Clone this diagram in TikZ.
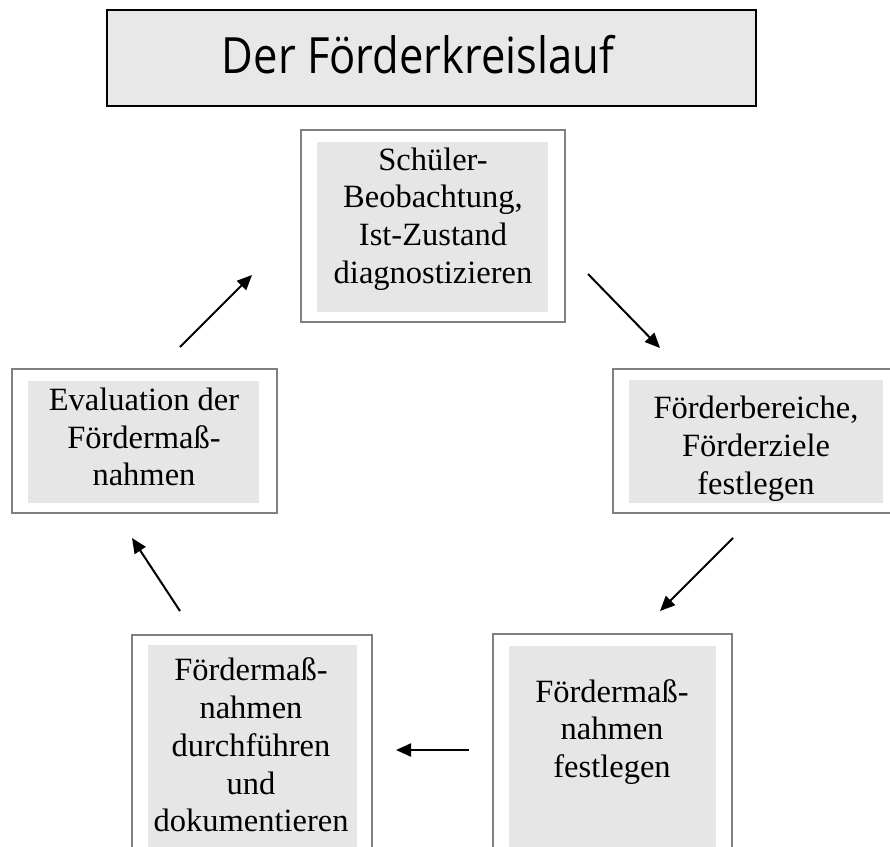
\documentclass[tikz,border=0pt]{standalone}
\usepackage{fontspec}
\setmainfont{Liberation Serif}
\newfontfamily\titlefont{Open Sans}
\usetikzlibrary{arrows.meta}
\definecolor{boxgray}{HTML}{E6E6E6}
\definecolor{framegray}{HTML}{808080}
\definecolor{titlegray}{HTML}{E8E8E8}
\tikzset{
  frame/.style={draw=framegray, line width=2.2pt, fill=white},
  inner/.style={fill=boxgray},
  txt/.style={align=center, font=\fontsize{32.5}{37.8}\selectfont, inner sep=0pt},
  flow/.style={line width=2pt, -{Triangle[length=15pt,width=13pt]}}
}
\begin{document}
\begin{tikzpicture}[x=1pt,y=-1pt]
\useasboundingbox (0,0) rectangle (890,846);
\clip (0,0) rectangle (890,846);
\fill[white] (0,0) rectangle (890,846);
% title
\draw[fill=titlegray, line width=1.8pt] (107,10) rectangle (756,106);
\node[font=\titlefont\fontsize{50}{58}\selectfont, inner sep=0pt] (title) at (418,55) {\scalebox{0.87}[1]{Der Förderkreislauf}};
% top box
\draw[frame] (301,130) rectangle (565,322);
\fill[inner] (317,142) rectangle (548,312);
\node[txt] (b1) at (433,219) {Schüler-\\Beobachtung,\\Ist-Zustand\\diagnostizieren};
% right box
\draw[frame] (613,369) rectangle (900,513);
\fill[inner] (629,380) rectangle (883,503);
\node[txt] (b2) at (756,449) {Förderbereiche,\\Förderziele\\festlegen};
% bottom right box
\draw[frame] (493,634) rectangle (732,860);
\fill[inner] (509,646) rectangle (716,860);
\node[txt] (b3) at (612,732) {Fördermaß-\\nahmen\\festlegen};
% bottom left box
\draw[frame] (132,635) rectangle (372,860);
\fill[inner] (148,645) rectangle (357,860);
\node[txt] (b4) at (251,745) {Fördermaß-\\nahmen\\durchführen\\und\\dokumentieren};
% left box
\draw[frame] (12,369) rectangle (277,513);
\fill[inner] (28,381) rectangle (259,503);
\node[txt] (b5) at (144,437) {Evaluation der\\Fördermaß-\\nahmen};
% arrows
\coordinate (a1s) at (588,274); \coordinate (a1e) at (660,348);
\coordinate (a2s) at (733,538); \coordinate (a2e) at (660,611);
\coordinate (a3s) at (469,750); \coordinate (a3e) at (396,750);
\coordinate (a4s) at (180,611); \coordinate (a4e) at (132,538);
\coordinate (a5s) at (180,347); \coordinate (a5e) at (252,275);
\draw[flow] (a1s) -- (a1e);
\draw[flow] (a2s) -- (a2e);
\draw[flow] (a3s) -- (a3e);
\draw[flow] (a4s) -- (a4e);
\draw[flow] (a5s) -- (a5e);
\end{tikzpicture}
\end{document}
